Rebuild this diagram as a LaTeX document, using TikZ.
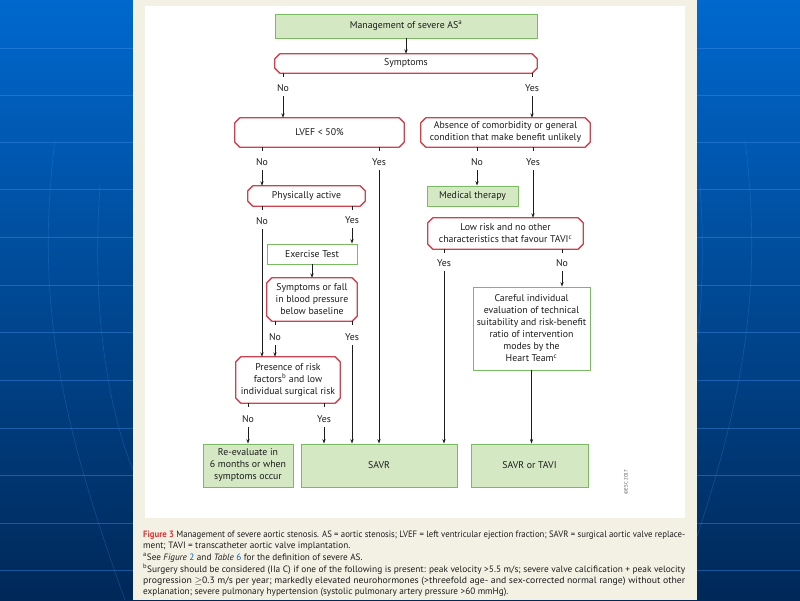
\documentclass[tikz,border=0pt]{standalone}
\usepackage{fontspec}
\usepackage{graphicx}
\setmainfont{PT Sans}
\usetikzlibrary{arrows.meta}
\definecolor{bgtop}{RGB}{0,104,206}
\definecolor{bgmid}{RGB}{0,80,168}
\definecolor{bgbot}{RGB}{0,40,88}
\definecolor{gridblue}{RGB}{60,140,230}
\definecolor{panel}{RGB}{243,241,228}
\definecolor{gfill}{RGB}{213,232,196}
\definecolor{gline}{RGB}{122,186,98}
\definecolor{rline}{RGB}{205,66,78}
\definecolor{ink}{RGB}{28,28,28}
\definecolor{figred}{RGB}{222,52,52}
\definecolor{refblue}{RGB}{20,90,175}
\newcommand\chamfbox[1]{%
  \draw[rline, line width=1.3pt, line join=round]
    ([xshift=5pt]#1.north west) -- ([xshift=-5pt]#1.north east) --
    ([yshift=-5pt]#1.north east) -- ([yshift=5pt]#1.south east) --
    ([xshift=-5pt]#1.south east) -- ([xshift=5pt]#1.south west) --
    ([yshift=5pt]#1.south west) -- ([yshift=-5pt]#1.north west) -- cycle;}
\newcommand\fitline[1]{\resizebox{542pt}{\height}{#1}}
\begin{document}
\begin{tikzpicture}[x=1pt,y=-1pt,
  bx/.style={rectangle, inner sep=0pt, align=center, text=ink,
    font=\fontsize{9.8}{12}\selectfont},
  gbox/.style={bx, draw=gline, line width=0.9pt, fill=gfill},
  obox/.style={bx, draw=gline, line width=0.9pt, fill=white},
  dbox/.style={bx},
  lab/.style={inner xsep=0pt, inner ysep=4.5pt, text=ink,
    font=\fontsize{9.8}{12}\selectfont},
  ln/.style={draw=ink, line width=0.7pt},
  arr/.style={ln, -{Stealth[length=4.5pt,width=3.2pt]}},
  captxt/.style={inner sep=0pt, anchor=west, text=ink,
    font=\fontsize{9.2}{11}\selectfont},
  gridl/.style={draw=gridblue, line width=0.6pt, opacity=0.45},
  arcl/.style={draw=gridblue, line width=0.6pt, opacity=0.3}]
\useasboundingbox (0,0) rectangle (800,600);
% background
\shade[top color=bgtop, middle color=bgmid, bottom color=bgbot] (0,0) rectangle (800,600);
\foreach \yy in {48,95,142,189,237,285,332,380,428,475,523,570}{
  \draw[gridl] (0,\yy) -- (133,\yy);
  \draw[gridl] (697,\yy) -- (800,\yy);}
\draw[arcl] (55,140) .. controls (35,300) and (60,420) .. (125,600);
\draw[arcl] (100,185) .. controls (92,300) and (105,400) .. (133,470);
\draw[arcl] (745,140) .. controls (765,300) and (740,420) .. (675,600);
\draw[arcl] (700,185) .. controls (708,300) and (695,400) .. (667,470);
\fill[panel] (133,0) rectangle (697,600);
\fill[white] (145,6) rectangle (685,518);
% nodes
\node[gbox, minimum width=262pt, minimum height=24pt] (mgmt) at (406,26) {Management of severe AS\textsuperscript{a}};
\node[dbox, minimum width=262pt, minimum height=19pt] (symp) at (406,63.5) {Symptoms};
\node[dbox, minimum width=169pt, minimum height=29pt] (lvef) at (319.5,132.5) {LVEF < 50\%};
\node[dbox, minimum width=169pt, minimum height=29pt] (absn) at (505.5,132.5) {Absence of comorbidity or general\\condition that make benefit unlikely};
\node[dbox, minimum width=117pt, minimum height=20pt] (phys) at (306.5,196) {Physically active};
\node[gbox, minimum width=91pt, minimum height=20pt] (med) at (472.5,196) {Medical therapy};
\node[dbox, minimum width=155pt, minimum height=31pt] (lowr) at (505.5,233.5) {Low risk and no other\\characteristics that favour TAVI\textsuperscript{c}};
\node[obox, minimum width=90pt, minimum height=20pt] (exer) at (312,254) {Exercise Test};
\node[dbox, minimum width=90pt, minimum height=43pt] (symf) at (312,299.5) {Symptoms or fall\\in blood pressure\\below baseline};
\node[dbox, minimum width=104pt, minimum height=46pt] (pres) at (288,380) {Presence of risk\\factors\textsuperscript{b} and low\\individual surgical risk};
\node[obox, minimum width=117pt, minimum height=83pt] (care) at (531.5,328.5) {Careful individual\\evaluation of technical\\suitability and risk-benefit\\ratio of intervention\\modes by the\\Heart Team\textsuperscript{c}};
\node[gbox, minimum width=90pt, minimum height=43pt] (reev) at (248,465.5) {Re-evaluate in\\6 months or when\\symptoms occur};
\node[gbox, minimum width=156pt, minimum height=43pt] (savr) at (379,465.5) {SAVR};
\node[gbox, minimum width=117pt, minimum height=43pt] (savt) at (529.5,465.5) {SAVR or TAVI};
\foreach \n in {symp,lvef,absn,phys,lowr,symf,pres}{\chamfbox{\n}}
% labels
\node[lab] (sno) at (283,88) {No};
\node[lab] (syes) at (532,88) {Yes};
\node[lab] (lno) at (262,162) {No};
\node[lab] (lyes) at (379,162) {Yes};
\node[lab] (ano) at (477,162) {No};
\node[lab] (ayes) at (533,162) {Yes};
\node[lab] (pno) at (262,221) {No};
\node[lab] (pyes) at (352,220) {Yes};
\node[lab] (fno) at (275,337) {No};
\node[lab] (fyes) at (352,337) {Yes};
\node[lab] (rno) at (248,419) {No};
\node[lab] (ryes) at (324,419) {Yes};
\node[lab] (wyes) at (444,263) {Yes};
\node[lab] (wno) at (562,263) {No};
% stubs
\draw[ln] (symp.south -| sno) -- ++(0,4);
\draw[ln] (symp.south -| syes) -- ++(0,4);
\draw[ln] (lvef.south -| lno) -- ++(0,4);
\draw[ln] (lvef.south -| lyes) -- ++(0,4);
\draw[ln] (absn.south -| ano) -- ++(0,4);
\draw[ln] (absn.south -| ayes) -- ++(0,4);
\draw[ln] (phys.south -| pno) -- ++(0,4);
\draw[ln] (phys.south -| pyes) -- ++(0,4);
\draw[ln] (symf.south -| fno) -- ++(0,4);
\draw[ln] (symf.south -| fyes) -- ++(0,4);
\draw[ln] (pres.south -| rno) -- ++(0,4);
\draw[ln] (pres.south -| ryes) -- ++(0,4);
\draw[ln] (lowr.south -| wyes) -- ++(0,4);
\draw[ln] (lowr.south -| wno) -- ++(0,4);
% arrows
\draw[arr] (mgmt.south) -- (symp.north);
\draw[arr] (sno.south) -- (lvef.north -| sno);
\draw[arr] (syes.south) -- (absn.north -| syes);
\draw[arr] (lno.south) -- (phys.north -| lno);
\draw[arr] (lyes.south) -- (savr.north -| lyes);
\draw[arr] (ano.south) -- (med.north -| ano);
\draw[arr] (ayes.south) -- (lowr.north -| ayes);
\draw[arr] (pno.south) -- (pres.north -| pno);
\draw[arr] (pyes.south) -- (exer.north -| pyes);
\draw[arr] (exer.south) -- (symf.north);
\draw[arr] (fno.south) -- (pres.north -| fno);
\draw[arr] (fyes.south) -- (savr.north -| fyes);
\draw[arr] (rno.south) -- (reev.north -| rno);
\draw[arr] (ryes.south) -- (savr.north -| ryes);
\draw[arr] (wyes.south) -- (savr.north -| wyes);
\draw[arr] (wno.south) -- (care.north -| wno);
\draw[arr] (care.south) -- (savt.north -| care.south);
% copyright
\node[rotate=90, inner sep=0pt, text=ink!75, font=\fontsize{5}{6}\selectfont] (esc) at (626,482) {©ESC 2017};
% caption
\node[captxt] (c1) at (143,535) {\fitline{\textcolor{figred}{\bfseries Figure 3} Management of severe aortic stenosis. AS = aortic stenosis; LVEF = left ventricular ejection fraction; SAVR = surgical aortic valve replace-}};
\node[captxt] (c2) at (143,546.5) {ment; TAVI = transcatheter aortic valve implantation.};
\node[captxt] (c3) at (143,558) {\textsuperscript{a}See \textit{Figure} \textcolor{refblue}{2} and \textit{Table} \textcolor{refblue}{6} for the definition of severe AS.};
\node[captxt] (c4) at (143,569.5) {\fitline{\textsuperscript{b}Surgery should be considered (IIa C) if one of the following is present: peak velocity >5.5 m/s; severe valve calcification + peak velocity}};
\node[captxt] (c5) at (143,581) {\fitline{progression \ensuremath{\geq}0.3 m/s per year; markedly elevated neurohormones (>threefold age- and sex-corrected normal range) without other}};
\node[captxt] (c6) at (143,592.5) {explanation; severe pulmonary hypertension (systolic pulmonary artery pressure >60 mmHg).};
\end{tikzpicture}
\end{document}
